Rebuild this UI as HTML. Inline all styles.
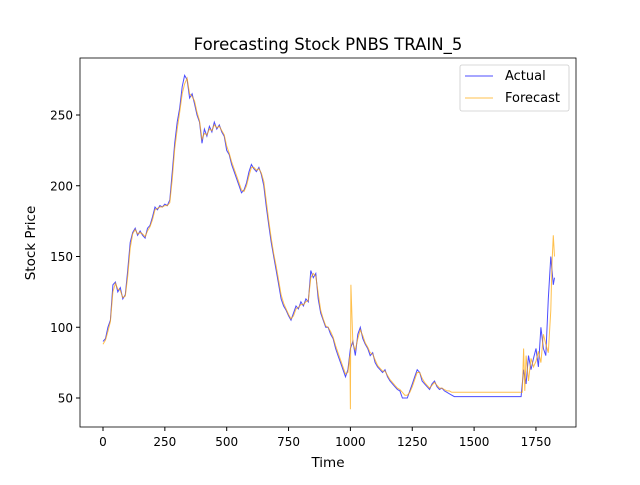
<!DOCTYPE html>
<html><head><meta charset="utf-8"><style>
body{margin:0;background:#fff;font-family:"Liberation Sans","DejaVu Sans",sans-serif}
svg text{font-family:"DejaVu Sans","Liberation Sans",sans-serif}
</style></head><body>
<svg width="640" height="480" xmlns="http://www.w3.org/2000/svg">
<rect width="640" height="480" fill="#fff"/>
<text x="328" y="50" font-size="16.5" text-anchor="middle">Forecasting Stock PNBS TRAIN_5</text>
<g id="plot"></g>
<rect x="80" y="58" width="496" height="369" fill="none" stroke="#000" stroke-width="0.8"/>
<g id="axes" font-size="12"></g>
<text x="328" y="467" font-size="13.5" text-anchor="middle">Time</text>
<text x="35" y="243" font-size="13.5" text-anchor="middle" transform="rotate(-90 35 243)">Stock Price</text>
<g>
<rect x="460" y="65" width="109" height="46" rx="2" fill="#fff" stroke="#ccc" stroke-width="0.8"/>
<line x1="465" y1="76" x2="493" y2="76" stroke="blue" stroke-opacity="0.7"/>
<text x="505" y="80" font-size="13">Actual</text>
<line x1="465" y1="98" x2="493" y2="98" stroke="orange" stroke-opacity="0.7"/>
<text x="505" y="102" font-size="13">Forecast</text>
</g>
</svg>
<script>
const xTicks=[0,250,500,750,1000,1250,1500,1750];
const yTicks=[50,100,150,200,250];
const actualT=[0,10,20,30,40,50,60,70,80,90,100,110,120,130,140,150,160,170,180,190,200,210,220,230,240,250,260,270,280,290,300,310,320,330,340,350,360,370,380,390,400,410,420,430,440,450,460,470,480,490,500,510,520,530,540,550,560,570,580,590,600,610,620,630,640,650,660,670,680,690,700,710,720,730,740,750,760,770,780,790,800,810,820,830,840,850,860,870,880,890,900,910,920,930,940,950,960,970,980,990,1000,1010,1020,1030,1040,1050,1060,1070,1080,1090,1100,1110,1120,1130,1140,1150,1160,1170,1180,1190,1200,1210,1220,1230,1240,1250,1260,1270,1280,1290,1300,1310,1320,1330,1340,1350,1360,1370,1380,1390,1400,1410,1420,1500,1600,1690,1700,1710,1720,1730,1740,1750,1760,1770,1780,1790,1800,1810,1820,1825];
const actualV=[90,92,100,105,130,132,125,128,120,123,140,160,167,170,165,168,165,163,170,172,178,185,183,186,185,187,186,190,210,230,245,255,270,278,275,262,265,258,250,245,230,240,235,242,238,245,240,243,238,235,225,222,215,210,205,200,195,197,202,210,215,212,210,213,208,200,185,172,160,150,140,130,120,115,112,108,105,110,115,113,118,115,120,118,140,135,138,120,110,105,100,100,95,92,85,80,75,70,65,70,85,90,80,95,100,92,88,85,80,82,75,72,70,68,70,65,62,60,58,56,55,50,50,50,55,60,65,70,68,62,60,58,56,60,62,58,56,57,55,54,53,52,51,51,51,51,70,60,80,70,78,85,72,100,85,80,120,150,130,135];
const fcT=[0,10,20,30,40,50,60,70,80,90,100,110,120,130,140,150,160,170,180,190,200,210,220,230,240,250,260,270,280,290,300,310,320,330,340,350,360,370,380,390,400,410,420,430,440,450,460,470,480,490,500,510,520,530,540,550,560,570,580,590,600,610,620,630,640,650,660,670,680,690,700,710,720,730,740,750,760,770,780,790,800,810,820,830,840,850,860,870,880,890,900,910,920,930,940,950,960,970,980,990,998,1000,1002,1010,1020,1030,1040,1050,1060,1070,1080,1090,1100,1110,1120,1130,1140,1150,1160,1170,1180,1190,1200,1210,1220,1230,1240,1250,1260,1270,1280,1290,1300,1310,1320,1330,1340,1350,1360,1370,1380,1390,1400,1410,1420,1500,1600,1690,1695,1700,1705,1710,1720,1730,1740,1750,1760,1770,1780,1790,1800,1810,1815,1820,1825];
const fcV=[88,91,97,104,125,131,127,126,121,122,136,156,166,169,166,167,166,164,168,171,176,183,184,185,185,186,186,188,205,226,240,252,265,272,276,265,263,260,252,246,233,237,236,240,239,243,241,242,239,236,228,223,217,212,207,202,197,196,200,207,213,213,211,212,209,203,189,175,163,152,143,133,123,117,113,109,106,108,113,114,116,116,118,119,135,138,136,124,112,106,101,100,97,93,87,82,77,72,67,68,80,42,130,88,84,92,98,94,89,86,82,81,77,73,71,69,69,66,63,61,59,57,56,54,52,52,54,58,63,68,68,64,61,59,57,59,61,59,57,57,56,55,55,54,54,54,54,54,54,85,55,80,62,78,72,76,83,75,95,88,82,112,145,165,150,160];
const X=v=>103+v*0.2474, Y=v=>398-(v-50)*1.415;
const ns="http://www.w3.org/2000/svg";
const plot=document.getElementById('plot'), axes=document.getElementById('axes');
function line(T,V,color,w,name){
  const p=document.createElementNS(ns,'polyline');
  p.setAttribute('points',T.map((t,i)=>X(t).toFixed(1)+','+Y(V[i]).toFixed(1)).join(' '));
  p.setAttribute('fill','none');p.setAttribute('stroke',color);p.setAttribute('stroke-opacity','0.7');p.setAttribute('stroke-width',w);
  
  
  plot.appendChild(p);
}
line(actualT,actualV,'blue',1,'actual-series');
line(fcT,fcV,'orange',1,'forecast-series');
xTicks.forEach(t=>{
  const l=document.createElementNS(ns,'line');
  l.setAttribute('x1',X(t));l.setAttribute('x2',X(t));l.setAttribute('y1',427);l.setAttribute('y2',431);l.setAttribute('stroke','#000');
  
  
  axes.appendChild(l);
  const s=document.createElementNS(ns,'text');
  s.setAttribute('x',X(t));s.setAttribute('y',446);s.setAttribute('text-anchor','middle');s.textContent=t;
  
  
  axes.appendChild(s);
});
yTicks.forEach(t=>{
  const l=document.createElementNS(ns,'line');
  l.setAttribute('x1',76);l.setAttribute('x2',80);l.setAttribute('y1',Y(t));l.setAttribute('y2',Y(t));l.setAttribute('stroke','#000');
  
  
  axes.appendChild(l);
  const s=document.createElementNS(ns,'text');
  s.setAttribute('x',73);s.setAttribute('y',Y(t)+4.5);s.setAttribute('text-anchor','end');s.textContent=t;
  
  
  axes.appendChild(s);
});
</script>
</body></html>
